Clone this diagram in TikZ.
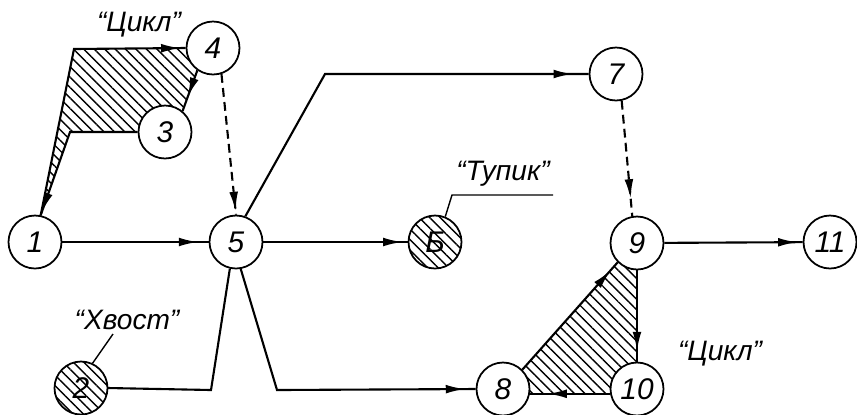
\documentclass[tikz,border=0pt]{standalone}
\usepackage{fontspec}
\setmainfont{Liberation Sans}
\usetikzlibrary{arrows.meta, decorations.markings, patterns.meta, backgrounds}

\begin{document}
\begin{tikzpicture}[
    x=0.02cm, y=-0.02cm,
    event/.style={draw,circle,line width=1pt,fill=white,minimum size=1.06cm,
      inner sep=0pt,font=\fontsize{17}{17}\selectfont\itshape},
    hatch/.style={pattern={Lines[angle=-45,distance=4.2pt,line width=0.8pt]}},
    deadevent/.style={event,fill=none,hatch},
    work/.style={line width=1.2pt},
    dummy/.style={line width=1.2pt,dash pattern=on 5pt off 3pt},
    arrmark/.style={postaction={decorate},decoration={markings,
      mark=at position #1 with {\arrow{Latex[length=11pt,width=5pt]}}}},
    arrmark/.default=-4pt,
    note/.style={font=\fontsize{16}{18}\selectfont\itshape},
    leader/.style={line width=0.8pt}
  ]
  \useasboundingbox (0,0) rectangle (857,414);

  % Events
  \node[event] (n1) at (35,242) {1};
  \node[deadevent] (n2) at (81,388) {2};
  \node[event] (n3) at (165,132) {3};
  \node[event] (n4) at (213,48) {4};
  \node[event] (n5) at (236,242) {5};
  \node[deadevent] (n6) at (435,242) {Б};
  \node[event] (n7) at (616,74) {7};
  \node[event] (n8) at (503,389) {8};
  \node[event] (n9) at (637,243) {9};
  \node[event] (n10) at (637,389) {10};
  \node[event] (n11) at (830,242) {11};

  % Bends of the works
  \coordinate (c1) at (74,49);
  \coordinate (c2) at (70,132);
  \coordinate (c3) at (325,74);
  \coordinate (c4) at (211,390);
  \coordinate (c5) at (277,390);

  % Labels
  \node[note] (cyc1) at (139,25) {“Цикл”};
  \node[note] (dead) at (503,174) {“Тупик”};
  \node[note] (tail) at (127,320) {“Хвост”};
  \node[note] (cyc2) at (720,354) {“Цикл”};
  \coordinate (u1) at (452,195);
  \coordinate (u2) at (553,195);
  \coordinate (t1) at (113,334);

  % Hatched cycles
  \begin{scope}[on background layer]
    \fill[hatch] (c1) -- (n4.west) -- (n4.235) -- (n3.50) -- (n3.west) -- (c2)
      -- (n1.78) -- cycle;
    \fill[hatch] (n8.45) -- (n9.225) -- (n9.south) -- (n10.north) -- (n10.190)
      -- (n8.-10) -- cycle;
  \end{scope}

  % Cycle 1-4-3-1
  \draw[work,arrmark=-3pt] (n1.78) -- (c1) -- (n4.west);
  \draw[work,arrmark=0.65] (n4.235) -- (n3.50);
  \draw[work,arrmark=-2pt] (n3.west) -- (c2) -- (n1.78);

  % Works
  \draw[work,arrmark=-6pt] (n1) -- (n5);
  \draw[work] (n2.east) -- (c4) -- (n5.-103);
  \draw[work,arrmark=-6pt] (n5.-80) -- (c5) -- (n8.west);
  \draw[work,arrmark=-3pt] (n5) -- (n6);
  \draw[work,arrmark=-9pt] (n5.70) -- (c3) -- (n7.west);
  \draw[work,arrmark=-3pt] (n9) -- (n11);

  % Dummy works
  \draw[dummy,arrmark=-2pt] (n4.-72) -- (n5.north);
  \draw[dummy,arrmark=-10pt] (n7.-78) -- (n9.100);

  % Cycle 8-9-10-8
  \draw[work,arrmark=-6pt] (n8.45) -- (n9.225);
  \draw[work,arrmark=-6pt] (n9) -- (n10);
  \draw[work,arrmark=-10pt] (n10.190) -- (n8.-10);

  % Leaders
  \draw[leader] (n6.68) -- (u1) -- (u2);
  \draw[leader] (n2.65) -- (t1);
\end{tikzpicture}
\end{document}
